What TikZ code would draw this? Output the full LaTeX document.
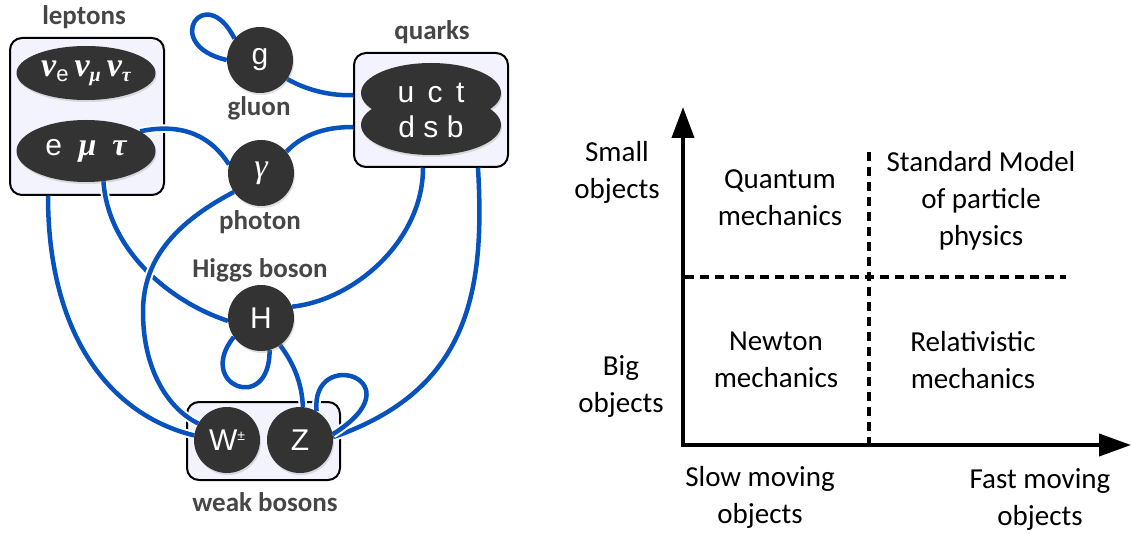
\documentclass[tikz,border=0pt]{standalone}
\usepackage{fontspec}
\setmainfont{Liberation Sans}
\newfontfamily\lblfont{Carlito}
\newfontfamily\handfont{Carlito}
\newfontfamily\grkfont{Liberation Serif}
\usetikzlibrary{arrows.meta,shapes.geometric,shadows,calc}
\pgfdeclarelayer{bg}
\pgfdeclarelayer{mid}
\pgfsetlayers{bg,mid,main}
\definecolor{lineblue}{RGB}{8,82,190}
\definecolor{darkfill}{RGB}{51,51,51}
\definecolor{boxfill}{RGB}{243,243,253}
\definecolor{lblgray}{RGB}{70,70,70}
\tikzset{
  pbox/.style={draw=black, line width=2pt, fill=boxfill, rounded corners=12pt, inner sep=0pt},
  particle/.style={circle, fill=darkfill, minimum size=66pt, inner sep=0pt, text=white,
    font=\fontsize{30}{30}\selectfont, drop shadow={shadow xshift=1pt, shadow yshift=-2pt, opacity=0.25}},
  blob/.style={ellipse, fill=darkfill, inner sep=0pt, text=white,
    font=\fontsize{30}{30}\selectfont, drop shadow={shadow xshift=1pt, shadow yshift=-2pt, opacity=0.25}},
  plabel/.style={text=lblgray, font=\lblfont\bfseries\fontsize{27}{27}\selectfont},
  link/.style={draw=lineblue, line width=4.5pt, preaction={draw=white, line width=8.5pt}},
  hand/.style={align=center, font=\handfont\fontsize{29}{37}\selectfont},
  axis/.style={line width=4pt, {Triangle[length=31pt,width=22pt]}-{Triangle[length=32pt,width=22pt]}},
  divider/.style={line width=3.5pt, dash pattern=on 9pt off 6pt},
}
\begin{document}
\begin{tikzpicture}[x=1pt,y=-1pt]
\useasboundingbox (0,0) rectangle (1131,534);

% ---------- boxes ----------
\begin{pgfonlayer}{bg}
\node[pbox, minimum width=154pt, minimum height=157pt] (lepbox) at (87,116.5) {};
\node[pbox, minimum width=154pt, minimum height=114pt] (qbox) at (431,110) {};
\node[pbox, minimum width=153pt, minimum height=78pt] (wbox) at (263.5,441) {};
\end{pgfonlayer}

% ---------- particles ----------
\node[blob, minimum width=139pt, minimum height=54pt] (nu) at (86,73)
  {\grkfont\bfseries\itshape\fontsize{34}{34}\selectfont ν\raisebox{-5pt}{\normalfont\fontsize{22}{22}\selectfont e}\hspace{6pt}ν\raisebox{-5pt}{\fontsize{20}{20}\selectfont μ}\hspace{6pt}ν\raisebox{-5pt}{\fontsize{20}{20}\selectfont τ}};
\node[blob, minimum width=139pt, minimum height=62pt] (lep) at (86,151)
  {e\ \ {\grkfont\bfseries\itshape\fontsize{32}{32}\selectfont μ\ \ τ}};
\node[blob, minimum width=140pt, minimum height=60pt] (qtop) at (431,93) {};
\node[blob, minimum width=140pt, minimum height=60pt] (qbot) at (431,125) {};
\node[text=white, font=\fontsize{30}{30}\selectfont] (uct) at (431,93) {u\ \,c\ \,t};
\node[text=white, font=\fontsize{30}{30}\selectfont] (dsb) at (431,127) {d\ s\ b};

\node[particle] (g) at (260,60) {g};
\node[particle] (gam) at (261,173) {\grkfont\itshape\fontsize{34}{34}\selectfont γ};
\node[particle] (H) at (261,318) {H};
\node[particle] (W) at (227,440) {W\raisebox{10pt}{\fontsize{14}{14}\selectfont ±}};
\node[particle] (Z) at (300,440) {Z};

% ---------- labels ----------
\node[plabel] (tlep) at (84,17) {leptons};
\node[plabel] (tq) at (432,32) {quarks};
\node[plabel] (tg) at (259,108) {gluon};
\node[plabel] (tgam) at (260,222) {photon};
\node[plabel] (tH) at (260,270) {Higgs boson};
\node[plabel] (tw) at (265,502) {weak bosons};

% ---------- connectors ----------
\begin{pgfonlayer}{mid}
% gluon self-loop
\draw[link] (g.140) .. controls (205,-20) and (160,45) .. (g.180);
% gluon - quarks
\draw[link] (g.-35) .. controls (310,92) and (335,96) .. ([yshift=15pt]qbox.west);
% photon - quarks
\draw[link] (gam.40) .. controls (305,132) and (330,127) .. ([yshift=-17pt]qbox.west);
% leptons - photon
\draw[link] (lep.20) .. controls (185,122) and (212,138) .. (gam.165);
% leptons - Higgs
\draw[link] (lep.-60) .. controls (108,250) and (170,302) .. (H.185);
% photon - W
\draw[link] (gam.215) .. controls (165,228) and (143,268) .. (143,312)
  .. controls (143,372) and (170,410) .. (W.150);
% leptons box - W
\draw[link] ([xshift=-39pt]lepbox.south) .. controls (48,335) and (110,415) .. (W.172);
% Higgs - quarks
\draw[link] (H.20) .. controls (355,300) and (423,240) .. ([xshift=-8pt]qbox.south);
% quarks - Z
\draw[link] ([xshift=47pt]qbox.south) .. controls (485,290) and (470,390) .. (Z.5);
% Higgs self-loop
\draw[link] (H.215) .. controls (195,385) and (270,415) .. (H.285);
% Higgs - Z
\draw[link] (H.-55) .. controls (295,365) and (302,385) .. (Z.85);
% Z self-loop
\draw[link] (Z.60) .. controls (310,345) and (420,380) .. (Z.10);
\end{pgfonlayer}

% ---------- right diagram ----------
\coordinate (O) at (683,445);
\coordinate (ytip) at (683,107);
\coordinate (xtip) at (1131,445);
\coordinate (vtop) at (869,152);
\coordinate (vbot) at (869,443);
\coordinate (hl) at (685,277);
\coordinate (hr) at (1066,277);
\draw[divider] (vtop) -- (vbot);
\draw[divider] (hl) -- (hr);
\draw[axis, line join=miter] (ytip) -- (O) -- (xtip);

\node[hand] (small) at (617,172) {Small\\objects};
\node[hand] (big) at (621,387) {Big\\objects};
\node[hand] (qm) at (780,198) {Quantum\\mechanics};
\node[hand] (nm) at (776,360) {Newton\\mechanics};
\node[hand] (sm) at (981,201) {Standard Model\\of particle\\physics};
\node[hand] (rm) at (973,360) {Relativistic\\mechanics};
\node[hand] (slow) at (760,497) {Slow moving\\objects};
\node[hand] (fast) at (1040,500) {Fast moving\\objects};
\end{tikzpicture}
\end{document}
